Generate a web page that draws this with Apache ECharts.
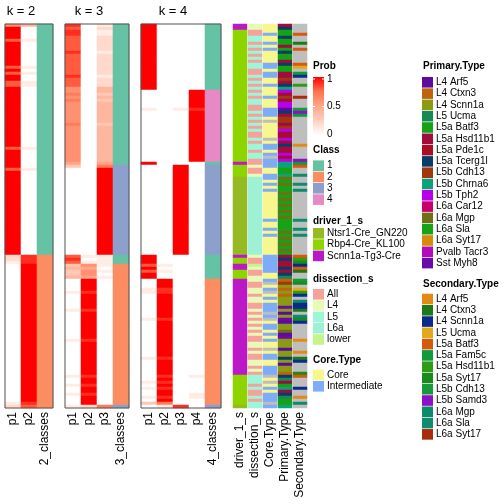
<!DOCTYPE html>
<html><head><meta charset="utf-8">
<script src="https://cdn.jsdelivr.net/npm/echarts@6/dist/echarts.min.js"></script>
<style>html,body{margin:0;padding:0;background:#fff}#c{width:504px;height:504px}</style>
</head><body><div id="c"></div>
<script>
// ================= DATA =================
const N_ROWS = 128;
const k2Cols = ['p1', 'p2', '2_classes'];
const k3Cols = ['p1', 'p2', 'p3', '3_classes'];
const k4Cols = ['p1', 'p2', 'p3', 'p4', '4_classes'];
const annoCols = ['driver_1_s', 'dissection_s', 'Core.Type', 'Primary.Type', 'Secondary.Type'];

// membership probabilities, one char per row (top to bottom): digit = value*10, 'a' = 1
const k2p1 = "6aaaa8aaaaaaaa8a 8aa88aaaaaaaaaaa aaaaaaaaa8aaaaaa 8aaaaaaaaaaaaaaa aaaaaaaaaaaaa221 0000000000000000 0000000000000000 0000000000000012";
const k2p2 = "4000010000000010 1001100000000000 0000000001000000 1000000000000000 0000000000000999 aaaaaaaaaaaaaaaa aaaaaaaaaaaaaaaa aaaaaaaaaaaaaa98";
const k2class = "1111111111111111 1111111111111111 1111111111111111 1111111111111111 1111111111111222 2222222222222222 2222222222222222 2222222222222222";

const k3p1 = "9899888889888888 8988866767666666 6766666666666653 0000000000000000 0000000000000898 3433400001000001 0000000001000000 0000010010010001";
const k3p2 = "0000000000000000 0000000000000000 0000000000000000 0000000000000000 0000000000000101 65665aaaa9aaaaa9 aaaaaaaaa9aaaaaa aaaaa9aa9aa9aaa2";
const k3p3 = "1211222221222222 2122244343444444 4344444444444457 aaaaaaaaaaaaaaaa aaaaaaaaaaaaa111 1010100000000000 0000000000000000 0000000000000007";
const k3class = "1111111111111111 1111111111111111 1111111111111113 3333333333333333 3333333333333111 2222222222222222 2222222222222222 2222222222222223";

const k4p1 = "aaaaaaaaaaaaaaaa aaaaaa0000001000 00000000000000a0 0000000000000000 0000000000000aaa 8a8aa00011000000 0010000000000001 0000000101001030";
const k4p2 = "0000000000000000 0000000000000000 0000000000000000 0000000000000000 0000000000000000 10100aaa99aaaaaa aa9aaaaaaaaaaaa9 aaaaa9a9a9aa9a71";
const k4p3 = "0000000000000000 0000000000001000 000000000000000a aaaaaaaaaaaaaaaa aaaaaaaaaaaaa000 0000000000000000 0000000000000000 0000000000000009";
const k4p4 = "0000000000000000 000000aaaaaa9aaa aaaaaaaaaaaaaa00 0000000000000000 0000000000000000 0000000000000000 0000000000000000 0000010000011000";
const k4class = "1111111111111111 1111114444444444 4444444444444413 3333333333333333 3333333333333111 1111122222222222 2222222222222222 2222222222222223";

// annotations, one char per row ('-' = NA)
const driverLevels = ['Ntsr1-Cre_GN220', 'Rbp4-Cre_KL100', 'Scnn1a-Tg3-Cre'];
const driverCodes = 'NRS';
const driverRows = "SSRRRRRRRRRRRRRR RRRRRRRRRRRRRRRR RRRRRRRRRRRRRRSR RRRNNNNNNNNNNNNN NNNNNNNNNNNNNSRR SSRRRSSSSSSSSSSS SSSSSSSSSSSSSSSS SSSSSRRRRRRRRRRN";

const dissectionLevels = ['All', 'L4', 'L5', 'L6a', 'lower'];
const dissectionCodes = 'A456W';
const dissectionRows = "44AA55A5A5A5A55A A5A5A5A5A55AA5A5 A5A5AA5A55A55AA4 AA46666666666666 66666666666664AA W4AA44AA44A44AA4 A4A4A4A4AA44A4AA 44A4A555A5AA5A55";

const coreLevels = ['Core', 'Intermediate'];
const coreCodes = 'CI';
const coreRows = "CCCICCICICCCCIIC IICCICCCICCCIIIC -CCCCC-CIICI-III CCIICICICCCCCCCC CICCICICCCCCCIII IIICCI-CI-CICIII -I-CIICICICC-CII CCIII-C-CICIII-I";

const primaryLevels = ['L4 Arf5', 'L4 Ctxn3', 'L4 Scnn1a', 'L5 Ucma', 'L5a Batf3', 'L5a Hsd11b1', 'L5a Pde1c', 'L5a Tcerg1l', 'L5b Cdh13', 'L5b Chrna6', 'L5b Tph2', 'L6a Car12', 'L6a Mgp', 'L6a Sla', 'L6a Syt17', 'Pvalb Tacr3', 'Sst Myh8'];
const primaryCodes = 'abcdefghijklmnopq';
const primaryRows = "fheeheefeheefhee ffifhjkfifkkahfi ifikfgkfhfgkfkjj eejmnmnnmnmnmnmn mnnnnmnmnmnmnfhf ghfhdbicbcbcccqc acqaccmaqcccacch caccbhdfejfhdenj";

const secondaryLevels = ['L4 Arf5', 'L4 Ctxn3', 'L4 Scnn1a', 'L5 Ucma', 'L5a Batf3', 'L5a Fam5c', 'L5a Hsd11b1', 'L5a Syt17', 'L5b Cdh13', 'L5b Samd3', 'L6a Mgp', 'L6a Sla', 'L6a Syt17'];
const secondaryCodes = 'ABCDEFGHIJKLM';
const secondaryRows = "---E--B-E----ED- FC--G---M---IJF- --------A----JFE --K--L-K-------- -L--K-K------EGH CEB--FH-DGC-KCCB -LHC-----A---A-B C---HE---C--A-K-";

// ================= STYLES =================
const FONT = '"Liberation Sans", Arial, Helvetica, sans-serif';
const probColors = ['#FFFFFF', '#FFCFBF', '#FFA689', '#FF724F', '#FF0000'];
const classColors = ['#66C2A5', '#FC8D62', '#8DA0CB', '#E78AC3'];
const driverColors = ['#95BA22', '#8ED500', '#BC19C6'];
const dissectionColors = ['#F5A29B', '#E8FBB6', '#9CF7D9', '#9EF1D4', '#C6F48B'];
const coreColors = ['#F7F78D', '#7EACF6'];
const primaryColors = ['#5B0C9E', '#C0630E', '#8B9A13', '#168A55', '#13A313', '#A00D3C', '#A80E28', '#0B3B68', '#A2370F', '#0DA27A', '#BA00E8', '#C8006C', '#6F7013', '#17A217', '#D88B08', '#B30ABB', '#6B0AA8'];
const secondaryColors = ['#E38A14', '#1B7B1B', '#0C2A8A', '#E2AA1A', '#D65A0B', '#0F9A3B', '#2E9C14', '#1A8A1A', '#169A3C', '#8C10C8', '#0A8B6A', '#0F8B71', '#A82B0B'];
const NA_COLOR = '#BEBEBE';

// ================= HELPERS =================
const clean = s => s.replace(/ /g, '').slice(0, N_ROWS);
const P = s => clean(s).split('').map(c => parseInt(c, 36) / 10);
const K = s => clean(s).split('').map(Number);
const A = (s, codes) => clean(s).split('').map(c => codes.indexOf(c));
const rowIdx = Array.from({length: N_ROWS}, (_, i) => i);

const panels = [
  {left: 5, width: 48, cols: k2Cols, probs: [k2p1, k2p2], cls: k2class, title: 'k = 2'},
  {left: 65, width: 64, cols: k3Cols, probs: [k3p1, k3p2, k3p3], cls: k3class, title: 'k = 3'},
  {left: 141, width: 80, cols: k4Cols, probs: [k4p1, k4p2, k4p3, k4p4], cls: k4class, title: 'k = 4'}
];
const annos = [
  {rows: A(driverRows, driverCodes), colors: driverColors},
  {rows: A(dissectionRows, dissectionCodes), colors: dissectionColors},
  {rows: A(coreRows, coreCodes), colors: coreColors},
  {rows: A(primaryRows, primaryCodes), colors: primaryColors},
  {rows: A(secondaryRows, secondaryCodes), colors: secondaryColors}
];
const annoLeft = [233, 248, 263, 278, 293];
const annoWidth = 14;
const TOP = 24, H = 384;

const grids = [], xAxes = [], yAxes = [], series = [], graphics = [];
const probSeries = [], classSeries = [], annoSeries = [];

const axisLabel = {rotate: 90, margin: 4, fontSize: 12, color: '#000', fontFamily: FONT, interval: 0};
const cellStyle = {borderWidth: 0};

panels.forEach((p, gi) => {
  grids.push({left: p.left, top: TOP, width: p.width, height: H, show: true, borderColor: '#505050', borderWidth: 1, backgroundColor: 'rgba(0,0,0,0)', z: 10, containLabel: false});
  xAxes.push({type: 'category', gridIndex: gi, data: p.cols, position: 'bottom', axisTick: {show: false}, axisLine: {show: false}, axisLabel, splitLine: {show: false}});
  yAxes.push({type: 'category', gridIndex: gi, data: rowIdx, inverse: true, show: false});
  const pd = [];
  p.probs.forEach((s, j) => P(s).forEach((v, i) => pd.push([j, i, v])));
  probSeries.push(series.length);
  series.push({type: 'heatmap', xAxisIndex: gi, yAxisIndex: gi, data: pd, progressive: 0, animation: false, itemStyle: cellStyle});
  const cd = K(p.cls).map((c, i) => [p.probs.length, i, c]);
  classSeries.push(series.length);
  series.push({type: 'heatmap', xAxisIndex: gi, yAxisIndex: gi, data: cd, progressive: 0, animation: false, itemStyle: cellStyle});
  const k = p.probs.length;
  graphics.push({type: 'text', x: p.left + p.width * k / (k + 1) / 2, y: 11,
    style: {text: p.title, fontSize: 13, fontFamily: FONT, fill: '#000', align: 'center', verticalAlign: 'middle'}});
});

const annoPieces = [{value: -1, color: NA_COLOR}];
annos.forEach((a, ai) => {
  const gi = grids.length;
  grids.push({left: annoLeft[ai], top: TOP, width: annoWidth, height: H, show: false});
  xAxes.push({type: 'category', gridIndex: gi, data: [annoCols[ai]], position: 'bottom', axisTick: {show: false}, axisLine: {show: false}, axisLabel, splitLine: {show: false}});
  yAxes.push({type: 'category', gridIndex: gi, data: rowIdx, inverse: true, show: false});
  a.colors.forEach((c, li) => annoPieces.push({value: ai * 100 + li, color: c}));
  annoSeries.push(series.length);
  series.push({type: 'heatmap', xAxisIndex: gi, yAxisIndex: gi, progressive: 0, animation: false, itemStyle: cellStyle,
    data: a.rows.map((l, i) => [0, i, l < 0 ? -1 : ai * 100 + l])});
});

// ================= LEGENDS =================
function lTitle(x, y, t) {
  graphics.push({type: 'text', x, y, style: {text: t, fontSize: 10, fontWeight: 'bold', fontFamily: FONT, fill: '#000', verticalAlign: 'middle'}});
}
function lText(x, y, t) {
  graphics.push({type: 'text', x, y, style: {text: t, fontSize: 10, fontFamily: FONT, fill: '#000', verticalAlign: 'middle'}});
}
function lItems(x, y0, levels, colors, step) {
  levels.forEach((lv, i) => {
    const y = y0 + i * step;
    graphics.push({type: 'rect', shape: {x: x, y: y - 5.3, width: 11, height: 10.6}, style: {fill: colors[i]}});
    lText(x + 14, y, lv);
  });
}
const LX = 313, RX = 422, STEP = 11.3;
lTitle(LX, 66, 'Prob');
graphics.push({type: 'rect', shape: {x: LX, y: 77, width: 11, height: 58},
  style: {fill: {type: 'linear', x: 0, y: 0, x2: 0, y2: 1, colorStops: [
    {offset: 0, color: probColors[4]}, {offset: 0.25, color: probColors[3]}, {offset: 0.5, color: probColors[2]},
    {offset: 0.75, color: probColors[1]}, {offset: 1, color: probColors[0]}]}}});
[[79, '1'], [106.5, '0.5'], [134, '0']].forEach(([y, t]) => {
  graphics.push({type: 'line', shape: {x1: LX, y1: y, x2: LX + 2, y2: y}, style: {stroke: '#fff', lineWidth: 1}});
  graphics.push({type: 'line', shape: {x1: LX + 9, y1: y, x2: LX + 11, y2: y}, style: {stroke: '#fff', lineWidth: 1}});
  lText(LX + 14, y, t);
});
lTitle(LX, 150, 'Class');
lItems(LX, 165.7, ['1', '2', '3', '4'], classColors, STEP);
lTitle(LX, 221, 'driver_1_s');
lItems(LX, 233.3, driverLevels, driverColors, STEP);
lTitle(LX, 279.3, 'dissection_s');
lItems(LX, 294.3, dissectionLevels, dissectionColors, STEP);
lTitle(LX, 360, 'Core.Type');
lItems(LX, 375, coreLevels, coreColors, STEP);
lTitle(RX + 1, 66.7, 'Primary.Type');
lItems(RX, 82.3, primaryLevels, primaryColors, STEP);
lTitle(RX + 1, 284, 'Secondary.Type');
lItems(RX, 299, secondaryLevels, secondaryColors, 11.28);

const option = {
  animation: false,
  backgroundColor: '#fff',
  grid: grids, xAxis: xAxes, yAxis: yAxes, series,
  visualMap: [
    {type: 'continuous', seriesIndex: probSeries, min: 0, max: 1, dimension: 2, show: false, inRange: {color: probColors}},
    {type: 'piecewise', seriesIndex: classSeries, dimension: 2, show: false, pieces: classColors.map((c, i) => ({value: i + 1, color: c}))},
    {type: 'piecewise', seriesIndex: annoSeries, dimension: 2, show: false, pieces: annoPieces}
  ],
  graphic: graphics
};
const chart = echarts.init(document.getElementById('c'), null, {renderer: 'canvas', width: 504, height: 504});
chart.setOption(option);
</script></body></html>
